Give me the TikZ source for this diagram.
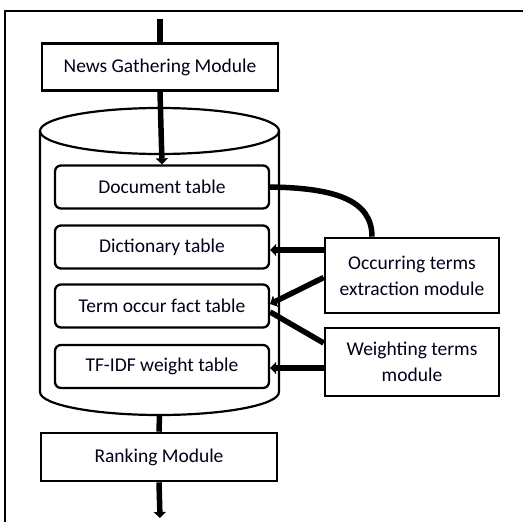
\documentclass[tikz,border=0pt]{standalone}
\usepackage{fontspec}
\setmainfont{Carlito}
\usetikzlibrary{arrows.meta,calc}
\begin{document}
\begin{tikzpicture}[x=1pt,y=-1pt,
  every node/.style={font=\fontsize{19.5}{26}\selectfont, text=black!90!blue},
  modbox/.style={draw, line width=2.6pt, minimum width=236pt, minimum height=47pt, inner sep=0pt, fill=white},
  tabbox/.style={draw, line width=2.3pt, rounded corners=6pt, minimum width=214pt, minimum height=43pt, inner sep=0pt, fill=white},
  sidebox/.style={draw, line width=2.6pt, minimum width=174pt, inner sep=0pt, align=center, fill=white},
  conn/.style={line width=5.5pt},
  arr/.style={conn, -{Triangle[length=6pt,width=12pt]}},
  cyl/.style={line width=2.2pt}
]
\useasboundingbox (0,0) rectangle (523,522);
% outer frame (right and bottom sides outside the picture)
\draw[line width=2.8pt] (5,530) -- (5,11) -- (530,11);

% cylinder
\fill[white] (40,131) -- (40,392) arc[start angle=180,end angle=360,x radius=119.5,y radius=-23] -- (279,131) -- cycle;
\draw[cyl] (40,131) -- (40,392) arc[start angle=180,end angle=360,x radius=119.5,y radius=-23] -- (279,131);
\draw[cyl] (159.5,131) ellipse[x radius=119.5, y radius=23];
\coordinate (cyltop) at (159.5,108);
\coordinate (cylbot) at (159.5,415);

% modules
\node[modbox] (ngm) at (160,67) {News Gathering Module};
\node[modbox, minimum height=48pt] (rank) at (159,457) {Ranking Module};
\coordinate (in) at (160,19);
\coordinate (out) at (160,518);

% tables
\node[tabbox] (doc) at (162,187) {Document table};
\node[tabbox] (dict) at (162,247) {Dictionary table};
\node[tabbox] (term) at (162,306) {Term occur fact table};
\node[tabbox] (tfidf) at (162,366.5) {TF-IDF weight table};

% side modules
\node[sidebox, minimum height=75pt] (occ) at (412,275.5) {Occurring terms\\extraction module};
\node[sidebox, minimum height=68pt] (wt) at (412,362) {Weighting terms\\module};

% connectors
\draw[conn] (in) -- (ngm.north);
\draw[arr] (ngm.south) -- (doc.north);
\draw[conn] (cylbot) -- (rank.north);
\draw[arr] (rank.south) -- (out);

\draw[conn] (doc.east) .. controls (335,188) and (372,200) .. ([xshift=-40pt]occ.north);
\draw[arr] ([yshift=-3pt]dict.east -| occ.west) -- ([yshift=-3pt]dict.east);
\draw[arr] ([yshift=-2pt]occ.west) -- ([yshift=2pt]term.east);
\draw[conn] ([yshift=-6pt]term.east) -- ([yshift=19pt]wt.west);
\draw[arr] ([yshift=-1.5pt]tfidf.east -| wt.west) -- ([yshift=-1.5pt]tfidf.east);
\end{tikzpicture}
\end{document}
